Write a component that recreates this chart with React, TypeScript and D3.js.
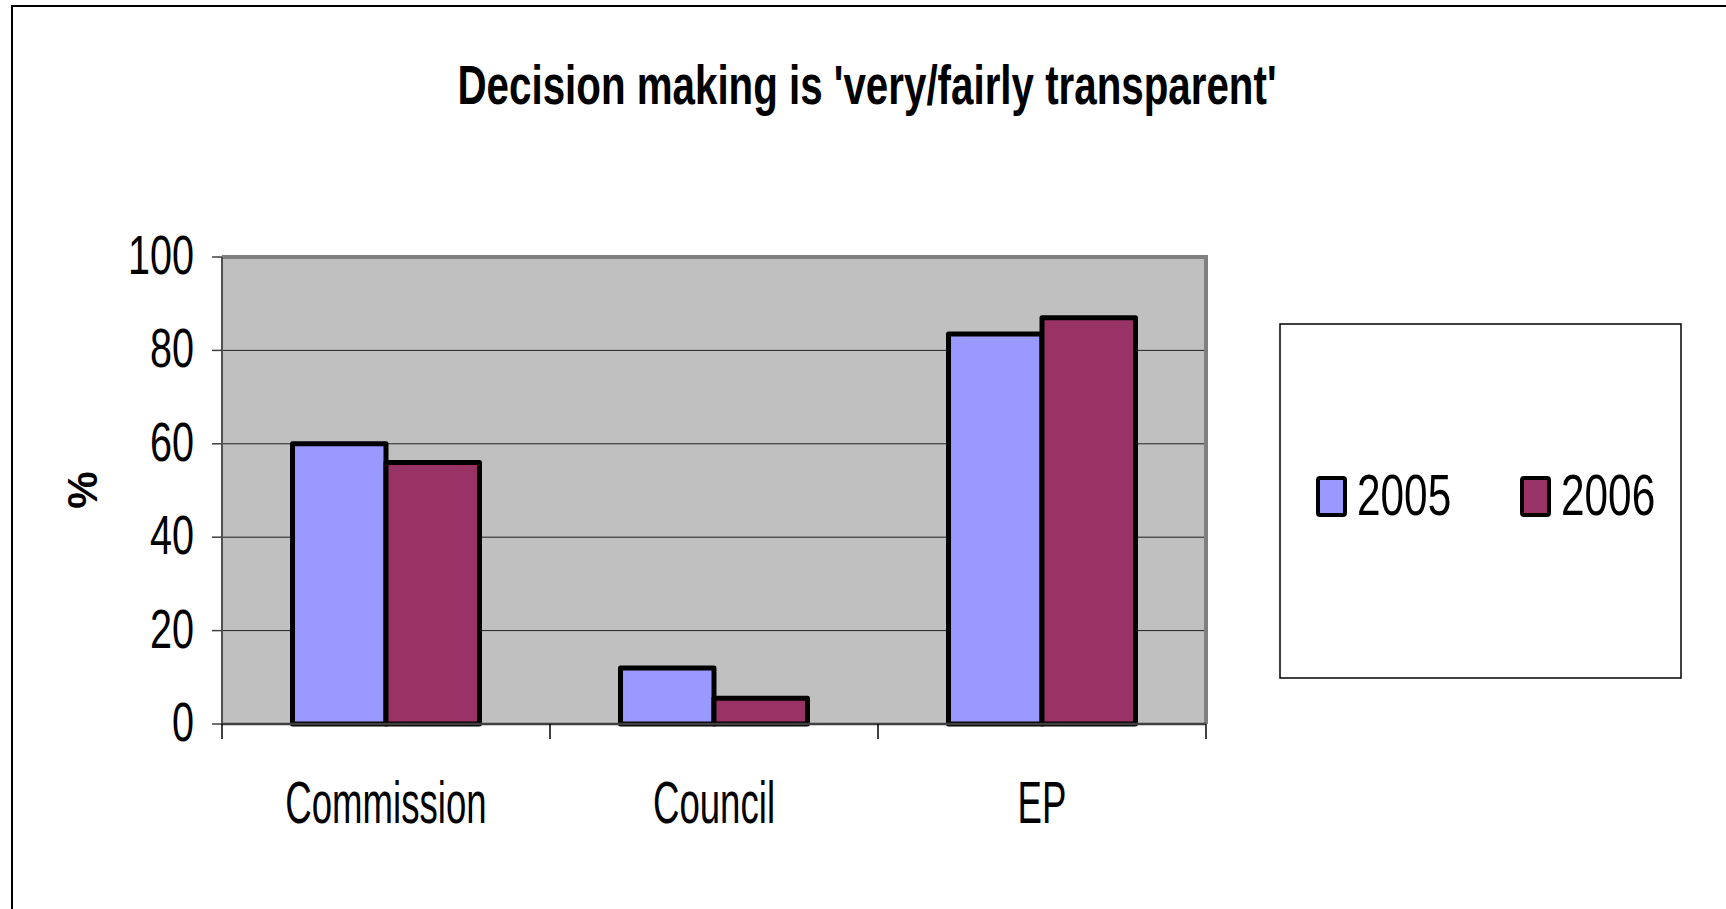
import React from "react";
import * as d3 from "d3";

const categories = ["Commission", "Council", "EP"];
const seriesNames = ["2005", "2006"];
const values2005 = [60, 12, 83.5];
const values2006 = [56, 5.5, 87];
const yTicks = [0, 20, 40, 60, 80, 100];
const colors = ["#9999FF", "#993366"];
const title = "Decision making is 'very/fairly transparent'";
const yTitle = "%";

const W = 1726;
const H = 909;
const plot = { left: 222, right: 1206, top: 257, bottom: 724 };
const FONT = "'Liberation Sans', Arial, sans-serif";

export default function App() {
  const series = [values2005, values2006];
  const x = d3
    .scaleBand<string>()
    .domain(categories)
    .range([plot.left, plot.right])
    .paddingInner(0.43)
    .paddingOuter(0.215);
  const xs = d3.scaleBand<string>().domain(seriesNames).range([0, x.bandwidth()]);
  const y = d3.scaleLinear().domain([0, 100]).range([plot.bottom, plot.top]);
  const step = x.step();
  const boundaries = d3.range(categories.length + 1).map((i) => plot.left + i * step);

  return (
    <svg
      width={W}
      height={H}
      style={{ position: "absolute", left: 0, top: 0, background: "#fff" }}
      fontFamily={FONT}
    >
      {/* outer chart frame */}
      <rect x={12} y={6} width={W + 20} height={H + 20} fill="#fff" stroke="#000" strokeWidth={2} />

      {/* title */}
      <text
        transform={`translate(${(457 + 1277) / 2},104) scale(0.72,1)`}
        textAnchor="middle"
        fontWeight="bold"
        fontSize={56}
        fill="#000"
      >
        {title}
      </text>

      {/* plot area */}
      <rect
        x={plot.left}
        y={plot.top}
        width={plot.right - plot.left}
        height={plot.bottom - plot.top}
        fill="#C0C0C0"
      />
      {/* gridlines */}
      {yTicks
        .filter((t) => t > 0 && t < 100)
        .map((t) => (
          <line key={t} x1={plot.left} x2={plot.right} y1={y(t)} y2={y(t)} stroke="#222" strokeWidth={1} />
        ))}
      {/* plot border */}
      <line x1={plot.left} x2={plot.right + 2} y1={plot.top} y2={plot.top} stroke="#808080" strokeWidth={4} />
      <line x1={plot.right} x2={plot.right} y1={plot.top} y2={plot.bottom} stroke="#808080" strokeWidth={4} />
      <line x1={plot.left} x2={plot.left} y1={plot.top} y2={plot.bottom} stroke="#808080" strokeWidth={2} />

      {/* bars */}
      {categories.map((c, ci) =>
        seriesNames.map((s, si) => {
          const v = series[si][ci];
          const bx = (x(c) as number) + (xs(s) as number);
          return (
            <rect
              key={c + s}
              x={bx}
              y={y(v)}
              width={xs.bandwidth()}
              height={y(0) - y(v)}
              fill={colors[si]}
              stroke="#000"
              strokeWidth={5}
              strokeLinejoin="round"
            />
          );
        })
      )}

      {/* axes */}
      <line x1={plot.left} x2={plot.right} y1={plot.bottom} y2={plot.bottom} stroke="#404040" strokeWidth={2.5} />
      <line x1={plot.left} x2={plot.left} y1={plot.top} y2={plot.bottom} stroke="#404040" strokeWidth={1.5} />
      {yTicks.map((t) => (
        <g key={t}>
          <line x1={plot.left - 10} x2={plot.left} y1={y(t)} y2={y(t)} stroke="#404040" strokeWidth={1.5} />
          <text
            transform={`translate(${plot.left - 28},${y(t) + 17}) scale(0.72,1)`}
            textAnchor="end"
            fontSize={55}
            fill="#000"
          >
            {t}
          </text>
        </g>
      ))}
      {boundaries.map((bx, i) => (
        <line key={i} x1={bx} x2={bx} y1={plot.bottom} y2={plot.bottom + 15} stroke="#000" strokeWidth={1.5} />
      ))}
      {categories.map((c) => (
        <text
          key={c}
          transform={`translate(${(x(c) as number) + x.bandwidth() / 2},823) scale(0.61,1)`}
          textAnchor="middle"
          fontSize={60}
          fill="#000"
        >
          {c}
        </text>
      ))}

      {/* y axis title */}
      <text
        transform="translate(97,490) rotate(-90)"
        textAnchor="middle"
        fontWeight="bold"
        fontSize={42}
        fill="#000"
      >
        {yTitle}
      </text>

      {/* legend */}
      <rect x={1280} y={324} width={401} height={354} fill="#fff" stroke="#000" strokeWidth={1.5} />
      {seriesNames.map((s, i) => {
        const lx = i === 0 ? 1318 : 1522;
        return (
          <g key={s}>
            <rect x={lx} y={478} width={27} height={37} rx={2} fill={colors[i]} stroke="#000" strokeWidth={4} />
            <text
              transform={`translate(${lx + 39},515) scale(0.73,1)`}
              fontSize={58}
              fill="#000"
            >
              {s}
            </text>
          </g>
        );
      })}
    </svg>
  );
}
